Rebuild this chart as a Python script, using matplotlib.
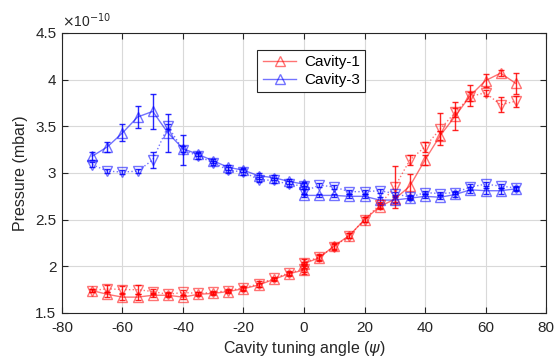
import matplotlib
matplotlib.use("Agg")
import matplotlib.pyplot as plt
import numpy as np

plt.rcParams['font.family'] = ['Liberation Sans', 'DejaVu Sans']
plt.rcParams['mathtext.fontset'] = 'dejavusans'
plt.rcParams['axes.unicode_minus'] = False

angle = [-70, -65, -60, -55, -50, -45, -40, -35, -30, -25, -20, -15, -10, -5, 0,
         0, 5, 10, 15, 20, 25, 30, 35, 40, 45, 50, 55, 60, 65, 70]

# Pressure in units of 1e-10 mbar
cav1_up = [1.74, 1.70, 1.67, 1.67, 1.69, 1.69, 1.67, 1.70, 1.71, 1.73, 1.76, 1.80, 1.86, 1.92, 1.96,
           2.03, 2.09, 2.22, 2.33, 2.50, 2.64, 2.72, 2.86, 3.14, 3.40, 3.61, 3.83, 3.99, 4.07, 3.96]
cav1_up_err = [0.02, 0.03, 0.03, 0.03, 0.02, 0.02, 0.02, 0.02, 0.02, 0.02, 0.02, 0.02, 0.02, 0.02, 0.02,
               0.02, 0.03, 0.03, 0.03, 0.03, 0.03, 0.03, 0.13, 0.05, 0.05, 0.15, 0.11, 0.07, 0.03, 0.11]
cav1_dn = [1.74, 1.76, 1.75, 1.75, 1.73, 1.70, 1.72, 1.71, 1.72, 1.74, 1.77, 1.81, 1.87, 1.93, 1.97,
           2.04, 2.10, 2.21, 2.33, 2.50, 2.66, 2.85, 3.14, 3.28, 3.47, 3.65, 3.82, 3.86, 3.73, 3.77]
cav1_dn_err = [0.02, 0.04, 0.04, 0.05, 0.03, 0.02, 0.03, 0.02, 0.02, 0.02, 0.02, 0.03, 0.02, 0.02, 0.05,
               0.04, 0.03, 0.03, 0.03, 0.03, 0.03, 0.22, 0.05, 0.05, 0.17, 0.05, 0.05, 0.03, 0.08, 0.06]

cav3_up = [3.18, 3.28, 3.43, 3.60, 3.66, 3.43, 3.26, 3.20, 3.13, 3.06, 3.03, 2.97, 2.95, 2.91, 2.88,
           2.76, 2.76, 2.76, 2.75, 2.75, 2.71, 2.71, 2.73, 2.75, 2.74, 2.77, 2.82, 2.81, 2.81, 2.83]
cav3_up_err = [0.04, 0.05, 0.09, 0.12, 0.19, 0.20, 0.03, 0.02, 0.02, 0.03, 0.02, 0.03, 0.03, 0.03, 0.02,
               0.02, 0.02, 0.02, 0.02, 0.02, 0.03, 0.03, 0.02, 0.02, 0.02, 0.03, 0.03, 0.03, 0.03, 0.02]
cav3_dn = [3.09, 3.02, 3.01, 3.02, 3.14, 3.50, 3.25, 3.18, 3.11, 3.03, 3.01, 2.93, 2.92, 2.88, 2.86,
           2.80, 2.87, 2.85, 2.80, 2.80, 2.81, 2.78, 2.74, 2.79, 2.78, 2.79, 2.85, 2.88, 2.86, 2.84]
cav3_dn_err = [0.03, 0.02, 0.02, 0.02, 0.09, 0.03, 0.16, 0.03, 0.02, 0.03, 0.03, 0.03, 0.03, 0.03, 0.03,
               0.03, 0.02, 0.02, 0.02, 0.02, 0.02, 0.02, 0.02, 0.02, 0.02, 0.02, 0.03, 0.02, 0.02, 0.02]

fig = plt.figure(figsize=(5.55, 3.61), dpi=100)
ax = fig.add_axes([0.1117, 0.133, 0.8721, 0.7756])

red = (1.0, 0.0, 0.0)
blue = (0.0, 0.0, 1.0)

def series(y, e, color, marker, ls, label=None):
    ax.errorbar(angle, y, yerr=e, fmt='none', ecolor=color, elinewidth=1.0,
                capsize=2.5, capthick=1.0, alpha=0.85, zorder=3)
    ax.plot(angle, y, linestyle=ls, color=color, marker=marker, markersize=6.5,
            markerfacecolor='none', markeredgecolor=color, markeredgewidth=1.0,
            linewidth=1.0, alpha=0.55, label=label, zorder=4)

series(cav1_up, cav1_up_err, red, '^', '-', 'Cavity-1')
series(cav3_up, cav3_up_err, blue, '^', '-', 'Cavity-3')
series(cav1_dn, cav1_dn_err, red, 'v', ':')
series(cav3_dn, cav3_dn_err, blue, 'v', ':')

ax.set_xlim(-80, 80)
ax.set_ylim(1.5, 4.5)
ax.set_xticks(np.arange(-80, 81, 20))
ax.set_yticks(np.arange(1.5, 4.51, 0.5))
ax.set_yticklabels(['%g' % v for v in np.arange(1.5, 4.51, 0.5)])
ax.grid(True, color=(0.85, 0.85, 0.85), linewidth=0.8)
ax.set_axisbelow(True)
ax.tick_params(direction='in', top=True, right=True, labelsize=11, length=4,
               color=(0.15, 0.15, 0.15), labelcolor=(0.15, 0.15, 0.15))
ax.tick_params(axis='x', pad=6)
ax.tick_params(axis='y', pad=4)
for s in ax.spines.values():
    s.set_color((0.15, 0.15, 0.15))
    s.set_linewidth(0.8)

ax.set_xlabel(r'Cavity tuning angle ($\psi$)', fontsize=11.5, color=(0.15, 0.15, 0.15), labelpad=3)
ax.set_ylabel('Pressure (mbar)', fontsize=11.5, color=(0.15, 0.15, 0.15), labelpad=5)
ax.text(0.0, 1.01, r'$\times$10$^{-10}$', transform=ax.transAxes, fontsize=10,
        ha='left', va='bottom', color=(0.15, 0.15, 0.15))

leg = ax.legend(loc='upper left', bbox_to_anchor=(0.388, 0.967), fontsize=11,
                fancybox=False, framealpha=1, edgecolor=(0.15, 0.15, 0.15),
                handlelength=2.2, borderpad=0.35, labelspacing=0.25, handletextpad=0.5)
leg.get_frame().set_linewidth(0.8)

fig.savefig('out.png', dpi=100)
